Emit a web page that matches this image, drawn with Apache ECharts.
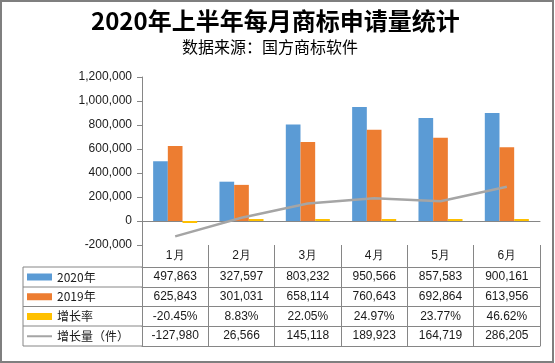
<!DOCTYPE html>
<html>
<head>
<meta charset="utf-8">
<script src="https://cdn.jsdelivr.net/npm/echarts@6/dist/echarts.min.js"></script>
<style>
html,body{margin:0;padding:0;background:#fff;}
#c{width:555px;height:363px;}
</style>
</head>
<body>
<div id="c"></div>
<script>
// ---- data ----
const months = ['1月','2月','3月','4月','5月','6月'];
const apps2020 = [497863, 327597, 803232, 950566, 857583, 900161];
const apps2019 = [625843, 301031, 658114, 760643, 692864, 613956];
const growthRate = [-20.45, 8.83, 22.05, 24.97, 23.77, 46.62];   // percent
const growthAmount = [-127980, 26566, 145118, 189923, 164719, 286205];
const seriesNames = ['2020年', '2019年', '增长率', '增长量（件）'];
const yTicks = {min: -200000, max: 1200000, interval: 200000};

// ---- layout ----
const W = 555, H = 363;
const gridL = 142, gridR = 15, gridT = 77, gridB = 118;
const axisColor = '#868686';
const textColor = '#1a1a1a';
const font = 'Liberation Sans';
const tableLeft = 23;
const rowOffsets = [22, 42, 61.5, 81, 101]; // offsets below plot bottom of table row lines
const plotBottom = H - gridB;

const fmt = v => v.toLocaleString('en-US');
const rowFormatters = [
  i => fmt(apps2020[i]),
  i => fmt(apps2019[i]),
  i => growthRate[i].toFixed(2) + '%',
  i => fmt(growthAmount[i])
];

const xAxes = [
  { // zero line
    type: 'category', data: months, gridIndex: 0, position: 'bottom',
    axisLine: {onZero: true, lineStyle: {color: axisColor, width: 1}},
    axisTick: {show: false}, axisLabel: {show: false}
  },
  { // category row + vertical table lines
    type: 'category', data: months, position: 'bottom', offset: 0,
    axisLine: {show: false, onZero: false},
    axisTick: {show: true, length: rowOffsets[rowOffsets.length - 1], interval: 0,
               lineStyle: {color: axisColor, width: 1}},
    axisLabel: {interval: 0, margin: 5, fontSize: 12, fontFamily: font, color: textColor}
  }
];
rowFormatters.forEach((f, r) => {
  xAxes.push({
    type: 'category', data: months, position: 'bottom', offset: rowOffsets[r],
    axisLine: {show: true, onZero: false, lineStyle: {color: axisColor, width: 1}},
    axisTick: {show: false},
    axisLabel: {interval: 0, margin: 4, fontSize: 12, fontFamily: font, color: textColor,
                formatter: (v, i) => f(i)}
  });
});
xAxes.push({
  type: 'category', data: months, position: 'bottom', offset: rowOffsets[rowOffsets.length - 1],
  axisLine: {show: true, onZero: false, lineStyle: {color: axisColor, width: 1}},
  axisTick: {show: false}, axisLabel: {show: false}
});

// legend column lines
const gfx = [];
rowOffsets.forEach(o => {
  gfx.push({type: 'line', shape: {x1: tableLeft, y1: plotBottom + o, x2: gridL, y2: plotBottom + o},
            style: {stroke: axisColor, lineWidth: 1}, z: 10});
});
gfx.push({type: 'line', shape: {x1: tableLeft, y1: plotBottom + rowOffsets[0], x2: tableLeft,
          y2: plotBottom + rowOffsets[rowOffsets.length - 1]}, style: {stroke: axisColor, lineWidth: 1}, z: 10});
gfx.push({type: 'rect', shape: {x: 1, y: 1, width: W - 3, height: H - 2},
          style: {fill: 'none', stroke: '#7f7f7f', lineWidth: 2}, z: 10});

const lineIcon = 'path://M0,0H0.01V0.01H0Z M0,2.3H28V4.7H0Z M0,6.99H0.01V7H0Z';

const option = {
  animation: false,
  backgroundColor: '#fff',
  title: [
    {text: '2020年上半年每月商标申请量统计', left: 91, top: 9, padding: 0,
     textStyle: {fontSize: 24, fontWeight: 'bold', color: '#000', fontFamily: 'Noto Sans CJK SC'}},
    {text: '数据来源：国方商标软件', left: 182, top: 39, padding: 0,
     textStyle: {fontSize: 16, fontWeight: 'normal', color: '#000', fontFamily: 'Noto Sans CJK SC'}}
  ],
  legend: {
    orient: 'vertical', left: 27, top: 270, padding: 0, itemGap: 5.75,
    itemWidth: 25, itemHeight: 7, selectedMode: false,
    textStyle: {fontSize: 12, lineHeight: 14, height: 14, fontFamily: 'Noto Sans CJK SC', color: textColor},
    data: [
      {name: seriesNames[0], icon: 'rect'},
      {name: seriesNames[1], icon: 'rect'},
      {name: seriesNames[2], icon: 'rect'},
      {name: seriesNames[3], icon: lineIcon}
    ]
  },
  grid: {left: gridL, right: gridR, top: gridT, bottom: gridB, containLabel: false},
  xAxis: xAxes,
  yAxis: {
    type: 'value', min: yTicks.min, max: yTicks.max, interval: yTicks.interval,
    axisLine: {show: true, lineStyle: {color: axisColor, width: 1}},
    axisTick: {show: true, length: 5, lineStyle: {color: axisColor}},
    splitLine: {show: false},
    axisLabel: {margin: 10, fontSize: 12, fontFamily: font, color: textColor, formatter: v => fmt(v)}
  },
  series: [
    {name: seriesNames[0], type: 'bar', xAxisIndex: 0, data: apps2020,
     itemStyle: {color: '#5B9BD5'}, barGap: '0%', barCategoryGap: '33.6%'},
    {name: seriesNames[1], type: 'bar', xAxisIndex: 0, data: apps2019,
     itemStyle: {color: '#ED7D31'}, barGap: '0%', barCategoryGap: '33.6%'},
    {name: seriesNames[2], type: 'bar', xAxisIndex: 0, data: growthRate.map(v => v / 100),
     itemStyle: {color: '#FFC000'}, barGap: '0%', barCategoryGap: '33.6%', barMinHeight: 2},
    {name: seriesNames[3], type: 'line', xAxisIndex: 0, data: growthAmount,
     symbol: 'none', showSymbol: false, smooth: false,
     lineStyle: {color: '#A5A5A5', width: 2.5}, itemStyle: {color: '#A5A5A5'}, z: 5}
  ],
  graphic: gfx
};
const chart = echarts.init(document.getElementById('c'), null, {renderer: 'canvas'});
chart.setOption(option);
</script>
</body>
</html>
